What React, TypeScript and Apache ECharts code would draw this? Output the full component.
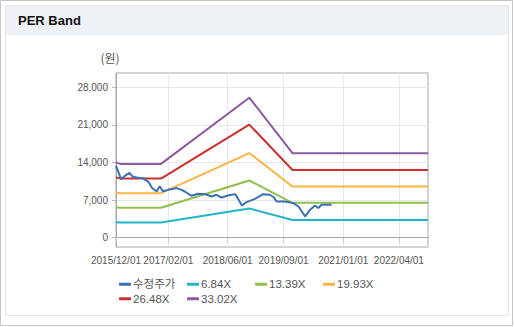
import React, { useEffect, useRef } from "react";
import * as echarts from "echarts";

// ---- data ----
const priceDates = [
  "2015-12-01", "2016-01-12", "2016-02-10", "2016-03-20", "2016-04-15", "2016-06-01",
  "2016-07-10", "2016-08-20", "2016-09-20", "2016-10-28", "2016-11-22", "2016-12-18",
  "2017-02-01", "2017-04-10", "2017-05-20", "2017-06-15", "2017-08-10", "2017-10-01",
  "2017-11-28", "2018-01-20", "2018-03-01", "2018-04-12", "2018-06-03", "2018-08-01",
  "2018-08-22", "2018-09-25", "2018-11-03", "2019-01-10", "2019-03-18", "2019-05-12",
  "2019-06-15", "2019-07-05", "2019-09-12", "2019-11-20", "2020-01-01", "2020-02-25",
  "2020-04-05", "2020-05-15", "2020-06-10", "2020-07-08", "2020-09-28",
];
const priceValues = [
  13370, 10900, 11500, 12070, 11380, 11140,
  11050, 10450, 9290, 8600, 9560, 8640,
  8910, 9230, 8910, 8600, 7800, 8170,
  8110, 7670, 7990, 7480, 7860, 8110,
  7370, 6000, 6630, 7240, 8110, 7990,
  7480, 6740, 6740, 6440, 5810, 3960,
  5200, 6000, 5520, 6130, 6130,
];

const bandDates = ["2015-12-01", "2016-01-10", "2016-12-03", "2018-11-25", "2019-11-13", "2022-11-25"];
const band684 = [2880, 2845, 2845, 5450, 3300, 3300];
const band1339 = [5640, 5570, 5570, 10650, 6500, 6500];
const band1993 = [8400, 8290, 8290, 15750, 9520, 9520];
const band2648 = [11200, 11010, 11010, 21040, 12600, 12600];
const band3302 = [13950, 13740, 13740, 26050, 15730, 15730];

const seriesNames = ["수정주가", "6.84X", "13.39X", "19.93X", "26.48X", "33.02X"];
const seriesColors = ["#3b6fb6", "#22b5c5", "#8fbf4d", "#f7b543", "#c8312d", "#8b5a9f"];

const xTickLabels = ["2015/12/01", "2017/02/01", "2018/06/01", "2019/09/01", "2021/01/01", "2022/04/01"];
const yTickValues = [0, 7000, 14000, 21000, 28000];

const xMin = "2015-12-01";
const xMax = "2022-11-25";

function toTime(s: string): number {
  const p = s.replace(/\//g, "-").split("-").map(Number);
  return new Date(p[0], p[1] - 1, p[2]).getTime();
}
function pad(n: number) {
  return n < 10 ? "0" + n : "" + n;
}
function fmtDate(v: number) {
  const d = new Date(v);
  return d.getFullYear() + "/" + pad(d.getMonth() + 1) + "/" + pad(d.getDate());
}
function pairs(dates: string[], vals: number[]) {
  return dates.map((d, i) => [toTime(d), vals[i]]);
}

const FONT = "'Liberation Sans', Arial, 'Noto Sans CJK KR', sans-serif";

export default function App() {
  const ref = useRef<HTMLDivElement>(null);
  useEffect(() => {
    if (!ref.current) return;
    const chart = echarts.init(ref.current, undefined, { renderer: "svg" });
    const bandData = [band684, band1339, band1993, band2648, band3302];

    const lineSeries: any[] = bandData.map((vals, i) => ({
      name: seriesNames[i + 1],
      type: "line",
      data: pairs(bandDates, vals),
      showSymbol: false,
      lineStyle: { width: 2, color: seriesColors[i + 1] },
      itemStyle: { color: seriesColors[i + 1] },
    }));
    lineSeries.push({
      name: seriesNames[0],
      type: "line",
      data: pairs(priceDates, priceValues),
      showSymbol: false,
      lineStyle: { width: 2, color: seriesColors[0] },
      itemStyle: { color: seriesColors[0] },
    });

    const legendBase = {
      orient: "vertical",
      top: 273.5,
      itemGap: 3,
      itemWidth: 12,
      itemHeight: 3,
      icon: "roundRect",
      textStyle: { fontSize: 11.5, color: "#555", fontFamily: FONT, padding: [0, 0, 0, -3] },
    };

    const xTicks = xTickLabels.map(toTime);

    chart.setOption({
      animation: false,
      backgroundColor: "#fff",
      textStyle: { fontFamily: FONT },
      graphic: [
        { type: "rect", shape: { x: 0.5, y: 0.5, width: 512, height: 325 }, style: { fill: "#fff", stroke: "#c6c6c6", lineWidth: 1 }, z: -10 },
        { type: "rect", shape: { x: 5.5, y: 5.5, width: 503, height: 310 }, style: { fill: "#fff", stroke: "#e6e6e6", lineWidth: 1 }, z: -9 },
        { type: "rect", shape: { x: 6, y: 6, width: 502, height: 29 }, style: { fill: "#eef1f6" }, z: -8 },
      ],
      title: {
        text: "PER Band",
        left: 13,
        top: 9,
        textStyle: { fontSize: 13, fontWeight: "bold", color: "#111", fontFamily: FONT },
      },
      legend: [
        { ...legendBase, left: 114, data: [seriesNames[0], seriesNames[4]] },
        { ...legendBase, left: 182, data: [seriesNames[1], seriesNames[5]] },
        { ...legendBase, left: 250, data: [seriesNames[2]] },
        { ...legendBase, left: 318, data: [seriesNames[3]] },
      ],
      grid: {
        left: 116,
        right: 86,
        top: 73,
        bottom: 80,
        show: true,
        borderColor: "#a8a8a8",
        borderWidth: 1,
        backgroundColor: "transparent",
      },
      xAxis: {
        type: "value",
        min: toTime(xMin),
        max: toTime(xMax),
        axisLine: { show: true, lineStyle: { color: "#a8a8a8" } },
        axisTick: { show: true, length: 5, lineStyle: { color: "#cccccc" }, customValues: xTicks },
        axisLabel: {
          customValues: xTicks,
          formatter: (v: number) => fmtDate(v),
          fontSize: 10,
          color: "#555",
          margin: 8,
          fontFamily: FONT,
        },
        splitLine: { show: true, lineStyle: { color: "#e8e8e8", width: 1 } },
      },
      yAxis: {
        type: "value",
        min: -1725,
        max: 30650,
        name: "(원)",
        nameLocation: "end",
        nameGap: 10,
        nameTextStyle: { fontSize: 12, color: "#555", align: "center", padding: [0, 12, 0, 0], fontFamily: "'Noto Sans CJK KR', sans-serif" },
        axisLine: { show: true, lineStyle: { color: "#a8a8a8" } },
        axisTick: { show: true, length: 4, lineStyle: { color: "#bbbbbb" }, customValues: yTickValues },
        axisLabel: {
          customValues: yTickValues,
          formatter: (v: number) => v.toLocaleString("en-US"),
          fontSize: 10,
          color: "#555",
          margin: 8,
          fontFamily: FONT,
        },
        splitLine: { show: true, lineStyle: { color: "#e8e8e8", width: 1 } },
      },
      series: lineSeries,
    });
    return () => chart.dispose();
  }, []);
  return (
    <div
      ref={ref}
      style={{ position: "fixed", left: 0, top: 0, width: 514, height: 327 }}
    />
  );
}
